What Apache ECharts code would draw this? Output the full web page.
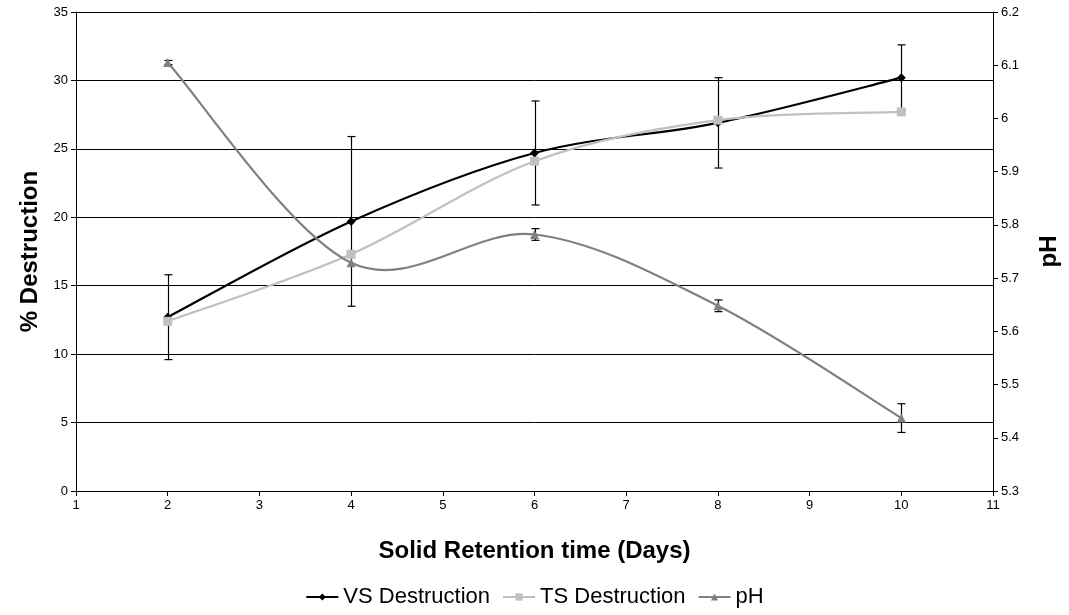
<!DOCTYPE html>
<html>
<head>
<meta charset="utf-8">
<script src="https://cdn.jsdelivr.net/npm/echarts@6/dist/echarts.min.js"></script>
<style>
  html, body { margin: 0; padding: 0; background: #fff; }
  #chart { width: 1069px; height: 615px; }
</style>
</head>
<body>
<div id="chart"></div>
<script>
// Solid retention time (days) for each sample
const days = [2, 4, 6, 8, 10];

// Volatile solids destruction (%) and its error
const vsDestruction = [12.7, 19.7, 24.7, 26.9, 30.2];
const vsError = [3.1, 6.2, 3.8, 3.3, 2.4];

// Total solids destruction (%)
const tsDestruction = [12.4, 17.3, 24.1, 27.1, 27.7];

// pH and its error
const phValues = [6.105, 5.729, 5.782, 5.648, 5.437];
const phError = [0.004, null, 0.011, 0.011, 0.027];

// Axis ticks: min, max, step
const xTicks = [1, 11, 1];
const leftTicks = [0, 35, 5];
const rightTicks = [5.3, 6.2, 0.1];

const FONT = 'Arial, "Liberation Sans", sans-serif';
const COLORS = { vs: '#000000', ts: '#c0c0c0', ph: '#808080' };

const pairs = (ys) => days.map((d, i) => [d, ys[i]]);

// Smoothed curve: cubic Bezier segments with Catmull-Rom style tangents
function curveRenderer(values, color) {
  return function (params, api) {
    const i = params.dataIndex;
    const n = days.length;
    if (i >= n - 1) return null;
    const clamp = (j) => Math.max(0, Math.min(n - 1, j));
    const p = (j) => api.coord([days[clamp(j)], values[clamp(j)]]);
    const p0 = p(i - 1), p1 = p(i), p2 = p(i + 1), p3 = p(i + 2);
    return {
      type: 'bezierCurve',
      shape: {
        x1: p1[0], y1: p1[1],
        x2: p2[0], y2: p2[1],
        cpx1: p1[0] + (p2[0] - p0[0]) / 6,
        cpy1: p1[1] + (p2[1] - p0[1]) / 6,
        cpx2: p2[0] - (p3[0] - p1[0]) / 6,
        cpy2: p2[1] - (p3[1] - p1[1]) / 6
      },
      style: { stroke: color, lineWidth: 2.2, fill: null },
      silent: true
    };
  };
}

// Vertical error bar with caps
function errorRenderer(values, errors) {
  return function (params, api) {
    const i = params.dataIndex;
    const e = errors[i];
    if (e == null) return null;
    const top = api.coord([days[i], values[i] + e]);
    const bot = api.coord([days[i], values[i] - e]);
    const cap = 4;
    const x = Math.round(top[0]) + 0.5;
    const st = { stroke: '#000', lineWidth: 1.2 };
    return {
      type: 'group',
      children: [
        { type: 'line', shape: { x1: x, y1: top[1], x2: x, y2: bot[1] }, style: st },
        { type: 'line', shape: { x1: x - cap, y1: top[1], x2: x + cap, y2: top[1] }, style: st },
        { type: 'line', shape: { x1: x - cap, y1: bot[1], x2: x + cap, y2: bot[1] }, style: st }
      ],
      silent: true
    };
  };
}

const axisText = { color: '#000', fontFamily: FONT, fontSize: 13 };
const nameText = { color: '#000', fontFamily: FONT, fontSize: 24, fontWeight: 'bold' };
const blackLine = { show: true, lineStyle: { color: '#000', width: 1 } };
const outTick = { show: true, inside: false, length: 5, lineStyle: { color: '#000' } };

const option = {
  animation: false,
  backgroundColor: '#fff',
  grid: { left: 76, right: 74, top: 12, bottom: 124, containLabel: false },
  legend: {
    bottom: 2,
    left: 'center',
    itemGap: 12,
    itemWidth: 32,
    itemHeight: 9,
    textStyle: { color: '#000', fontFamily: FONT, fontSize: 22 },
    data: [
      { name: 'VS Destruction', lineStyle: { width: 2, color: COLORS.vs } },
      { name: 'TS Destruction', lineStyle: { width: 2, color: COLORS.ts } },
      { name: 'pH', lineStyle: { width: 2, color: COLORS.ph } }
    ]
  },
  xAxis: {
    type: 'value',
    min: xTicks[0], max: xTicks[1], interval: xTicks[2],
    name: 'Solid Retention time (Days)',
    nameLocation: 'middle',
    nameGap: 48,
    nameTextStyle: nameText,
    axisLine: blackLine,
    axisTick: outTick,
    axisLabel: Object.assign({ margin: 8 }, axisText),
    splitLine: { show: false }
  },
  yAxis: [
    {
      type: 'value',
      min: leftTicks[0], max: leftTicks[1], interval: leftTicks[2],
      name: '% Destruction',
      nameLocation: 'middle',
      nameRotate: 90,
      nameGap: 28,
      nameTextStyle: nameText,
      axisLine: blackLine,
      axisTick: outTick,
      axisLabel: Object.assign({ margin: 8 }, axisText),
      splitLine: { show: true, lineStyle: { color: '#000', width: 1 } }
    },
    {
      type: 'value',
      position: 'right',
      min: rightTicks[0], max: rightTicks[1], interval: rightTicks[2],
      name: 'pH',
      nameLocation: 'middle',
      nameRotate: 90,
      nameGap: 44,
      nameTextStyle: nameText,
      axisLine: blackLine,
      axisTick: outTick,
      axisLabel: Object.assign({ margin: 8, formatter: (v) => String(+v.toFixed(1)) }, axisText),
      splitLine: { show: false }
    }
  ],
  series: [
    // curves
    { type: 'custom', renderItem: curveRenderer(vsDestruction, COLORS.vs), data: pairs(vsDestruction), encode: { x: 0, y: 1 }, z: 2 },
    { type: 'custom', renderItem: curveRenderer(tsDestruction, COLORS.ts), data: pairs(tsDestruction), encode: { x: 0, y: 1 }, z: 2 },
    { type: 'custom', yAxisIndex: 1, renderItem: curveRenderer(phValues, COLORS.ph), data: pairs(phValues), encode: { x: 0, y: 1 }, z: 2 },
    // error bars
    { type: 'custom', renderItem: errorRenderer(vsDestruction, vsError), data: pairs(vsDestruction), encode: { x: 0, y: 1 }, z: 3 },
    { type: 'custom', yAxisIndex: 1, renderItem: errorRenderer(phValues, phError), data: pairs(phValues), encode: { x: 0, y: 1 }, z: 3 },
    // markers (and legend entries)
    {
      name: 'VS Destruction', type: 'line', data: pairs(vsDestruction),
      symbol: 'diamond', symbolSize: 9, showAllSymbol: true,
      itemStyle: { color: COLORS.vs }, lineStyle: { width: 0, color: COLORS.vs }, z: 4
    },
    {
      name: 'TS Destruction', type: 'line', data: pairs(tsDestruction),
      symbol: 'rect', symbolSize: 9, showAllSymbol: true,
      itemStyle: { color: COLORS.ts }, lineStyle: { width: 0, color: COLORS.ts }, z: 4
    },
    {
      name: 'pH', type: 'line', yAxisIndex: 1, data: pairs(phValues),
      symbol: 'triangle', symbolSize: 9, showAllSymbol: true,
      itemStyle: { color: COLORS.ph }, lineStyle: { width: 0, color: COLORS.ph }, z: 4
    }
  ]
};

const chart = echarts.init(document.getElementById('chart'), null, { renderer: 'canvas' });
chart.setOption(option);
</script>
</body>
</html>
